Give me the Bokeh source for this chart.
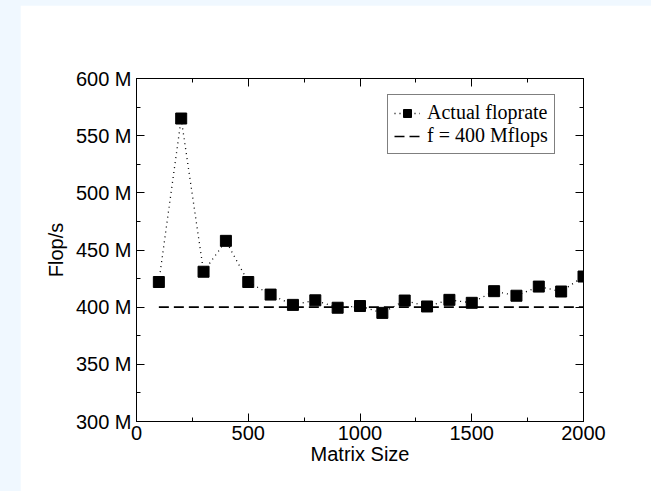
from bokeh.plotting import figure
from bokeh.models import (Range1d, LinearAxis, SingleIntervalTicker, PrintfTickFormatter,
                          Legend, LegendItem)
from bokeh.layouts import column
from bokeh.embed import file_html
from bokeh.resources import INLINE

# Data (matrix size vs. flop rate in Mflop/s)
matrix_size = [100, 200, 300, 400, 500, 600, 700, 800, 900, 1000,
               1100, 1200, 1300, 1400, 1500, 1600, 1700, 1800, 1900, 2000]
flop_rate = [422, 565, 431, 458, 422, 411, 402, 406, 399.5, 401,
             395, 405.8, 400.6, 406.4, 403.8, 414, 410, 418, 413.7, 426.8]
reference_rate = 400
series_label = "Actual floprate"
reference_label = "f = 400 Mflops"
x_title = "Matrix Size"
y_title = "Flop/s"

SANS = "Liberation Sans"
SERIF = "Liberation Serif"
FS = "20px"

p = figure(width=631, height=486, x_range=Range1d(0, 2000), y_range=Range1d(300, 600),
           output_backend="svg", toolbar_location=None,
           min_border_left=116, min_border_right=68, min_border_top=73, min_border_bottom=70,
           background_fill_color="white", border_fill_color="white")
p.margin = (5, 0, 0, 20)
p.grid.visible = False
p.outline_line_color = "black"
p.outline_line_width = 1

def style_axis(ax, labels=True):
    ax.axis_line_color = "black"
    ax.major_tick_in = 8
    ax.major_tick_out = 0
    ax.minor_tick_in = 4
    ax.minor_tick_out = 0
    ax.major_tick_line_color = "black"
    ax.minor_tick_line_color = "black"
    ax.major_label_text_font = SANS
    ax.major_label_text_font_size = FS
    ax.major_label_text_color = "black"
    ax.axis_label_text_font = SANS
    ax.axis_label_text_font_size = FS
    ax.axis_label_text_font_style = "normal"
    ax.axis_label_text_color = "black"
    if not labels:
        ax.major_label_text_font_size = "0px"
        ax.major_label_text_color = None

xt = SingleIntervalTicker(interval=500, num_minor_ticks=2)
yt = SingleIntervalTicker(interval=50, num_minor_ticks=2)

xa = p.xaxis[0]
xa.ticker = xt
xa.axis_label = x_title
style_axis(xa)
xa.major_label_standoff = 4
xa.axis_label_standoff = 0

ya = p.yaxis[0]
ya.ticker = yt
ya.formatter = PrintfTickFormatter(format="%d M")
ya.axis_label = y_title
style_axis(ya)
ya.major_label_standoff = 5
ya.axis_label_standoff = 6

ra = LinearAxis(ticker=SingleIntervalTicker(interval=50, num_minor_ticks=2))
style_axis(ra, labels=False)
p.add_layout(ra, "right")
ta = LinearAxis(ticker=SingleIntervalTicker(interval=500, num_minor_ticks=2))
style_axis(ta, labels=False)
p.add_layout(ta, "above")

ref_line = p.line([matrix_size[0], matrix_size[-1]], [reference_rate, reference_rate],
                  line_color="black", line_width=1.6, line_dash="10 5")
dot_line = p.line(matrix_size, flop_rate, line_color="black", line_width=1.3, line_dash="1 4")
pts = p.scatter(matrix_size, flop_rate, marker="square", size=11,
                fill_color="black", line_color="black")

legend = Legend(items=[LegendItem(label=series_label, renderers=[dot_line, pts]),
                       LegendItem(label=reference_label, renderers=[ref_line])],
                location=(251, 267))
legend.label_text_font = SERIF
legend.label_text_font_size = "20px"
legend.label_text_color = "black"
legend.border_line_color = "black"
legend.border_line_width = 1
legend.background_fill_color = "white"
legend.background_fill_alpha = 1
legend.padding = 6
legend.margin = 0
legend.spacing = 0
legend.glyph_width = 26
legend.glyph_height = 20
legend.label_height = 20
legend.label_standoff = 7
p.add_layout(legend, "center")

layout = column(p, styles={"background-color": "#F0F8FF"})

open("out.html", "w").write(file_html(layout, INLINE))
